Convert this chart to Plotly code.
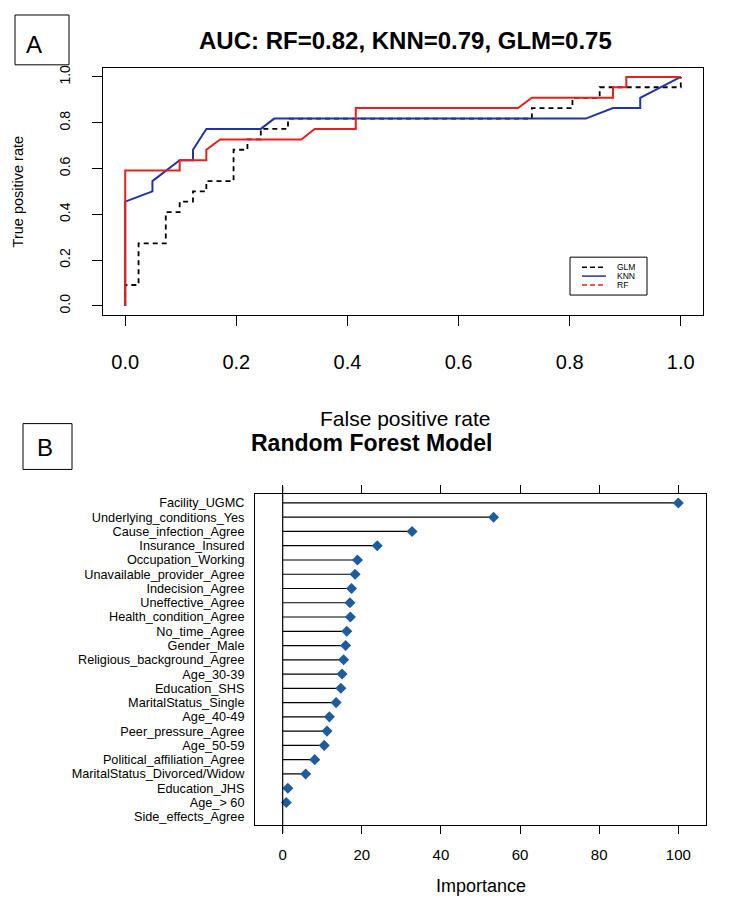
import plotly.graph_objects as go

# The page body has an 8px margin, so the figure is drawn 8px smaller than the window
PAGE_W, PAGE_H = 731, 906
OFF = 8
W, H = PAGE_W - OFF, PAGE_H - 2 * OFF

# ---------------- Panel A data (ROC curves) ----------------
glm_fpr = [0, 0, 0.024, 0.024, 0.073, 0.073, 0.098, 0.098, 0.122, 0.122, 0.146, 0.146,
           0.195, 0.195, 0.220, 0.220, 0.244, 0.244, 0.293, 0.293, 0.732, 0.732,
           0.805, 0.805, 0.854, 0.854, 1.0, 1.0]
glm_tpr = [0, 0.091, 0.091, 0.273, 0.273, 0.409, 0.409, 0.455, 0.455, 0.500, 0.500, 0.545,
           0.545, 0.682, 0.682, 0.727, 0.727, 0.773, 0.773, 0.818, 0.818, 0.864,
           0.864, 0.909, 0.909, 0.955, 0.955, 1.0]

knn_fpr = [0, 0, 0.049, 0.049, 0.098, 0.122, 0.122, 0.146, 0.244, 0.268, 0.829, 0.878,
           0.927, 0.927, 1.0]
knn_tpr = [0, 0.455, 0.500, 0.545, 0.636, 0.636, 0.682, 0.773, 0.773, 0.818, 0.818, 0.864,
           0.864, 0.909, 1.0]

rf_fpr = [0, 0, 0.098, 0.098, 0.146, 0.146, 0.171, 0.317, 0.341, 0.415, 0.415, 0.707,
          0.732, 0.878, 0.878, 0.902, 0.902, 1.0]
rf_tpr = [0, 0.591, 0.591, 0.636, 0.636, 0.682, 0.727, 0.727, 0.773, 0.773, 0.864, 0.864,
          0.909, 0.909, 0.955, 0.955, 1.0, 1.0]

roc_ticks = [0.0, 0.2, 0.4, 0.6, 0.8, 1.0]
title_a = "AUC: RF=0.82, KNN=0.79, GLM=0.75"

# ---------------- Panel B data (variable importance) ----------------
features = ["Facility_UGMC", "Underlying_conditions_Yes", "Cause_infection_Agree",
            "Insurance_Insured", "Occupation_Working", "Unavailable_provider_Agree",
            "Indecision_Agree", "Uneffective_Agree", "Health_condition_Agree",
            "No_time_Agree", "Gender_Male", "Religious_background_Agree", "Age_30-39",
            "Education_SHS", "MaritalStatus_Single", "Age_40-49", "Peer_pressure_Agree",
            "Age_50-59", "Political_affiliation_Agree", "MaritalStatus_Divorced/Widow",
            "Education_JHS", "Age_> 60", "Side_effects_Agree"]
importance = [100.0, 53.3, 32.7, 23.9, 18.9, 18.3, 17.4, 17.0, 17.1, 16.2, 15.9, 15.4,
              15.0, 14.7, 13.5, 11.8, 11.2, 10.5, 8.1, 5.8, 1.3, 0.9, 0.0]
imp_ticks = [0, 20, 40, 60, 80, 100]
title_b = "Random Forest Model"

FONT = "Liberation Sans, Arial, Helvetica, sans-serif"
RED = "#e3221f"
BLUE = "#2233a3"
DOT = "#1f5c9e"


def px(x):
    return (x - OFF) / W


def py(y):
    return 1 - (y - OFF) / H


fig = go.Figure()

# ROC traces
fig.add_trace(go.Scatter(x=glm_fpr, y=glm_tpr, mode="lines", name="GLM",
                         line=dict(color="black", width=1.8, dash="5px,4px"),
                         xaxis="x", yaxis="y", showlegend=False))
fig.add_trace(go.Scatter(x=knn_fpr, y=knn_tpr, mode="lines", name="KNN",
                         line=dict(color=BLUE, width=2),
                         xaxis="x", yaxis="y", showlegend=False))
fig.add_trace(go.Scatter(x=rf_fpr, y=rf_tpr, mode="lines", name="RF",
                         line=dict(color=RED, width=2),
                         xaxis="x", yaxis="y", showlegend=False))

# Lollipop stems
seg_x, seg_y = [], []
for f, v in zip(features, importance):
    seg_x += [0, v, None]
    seg_y += [f, f, None]
fig.add_trace(go.Scatter(x=seg_x, y=seg_y, mode="lines",
                         line=dict(color="black", width=1.2),
                         xaxis="x2", yaxis="y2", showlegend=False, hoverinfo="skip"))
dot_x = [v for v in importance if v > 0]
dot_y = [f for f, v in zip(features, importance) if v > 0]
fig.add_trace(go.Scatter(x=dot_x, y=dot_y, mode="markers",
                         marker=dict(symbol="diamond", size=8.5, color=DOT),
                         xaxis="x2", yaxis="y2", showlegend=False))

axis_common = dict(showgrid=False, zeroline=False, showline=True, linecolor="black",
                   linewidth=1, tickcolor="black", tickwidth=1)

fig.update_layout(
    width=W, height=H, margin=dict(l=0, r=0, t=0, b=0),
    paper_bgcolor="white", plot_bgcolor="white",
    font=dict(family=FONT, color="black"),
    xaxis=dict(domain=[px(103), px(703)], range=[-0.04, 1.04], tickvals=roc_ticks,
               tickformat=".1f", ticks="outside", ticklen=10, mirror=True,
               tickfont=dict(size=20), ticklabelstandoff=19, anchor="y", **axis_common),
    yaxis=dict(domain=[py(313), py(65)], range=[-0.04, 1.04], tickvals=roc_ticks,
               tickformat=".1f", ticks="outside", ticklen=10, mirror=True, tickangle=-90,
               tickfont=dict(size=14), ticklabelstandoff=16, anchor="x", **axis_common),
    xaxis2=dict(domain=[px(255), px(706)], range=[-7, 107], tickvals=imp_ticks,
                ticks="outside", ticklen=8, mirror="ticks", tickfont=dict(size=15),
                ticklabelstandoff=8, anchor="y2", **axis_common),
    yaxis2=dict(domain=[py(825), py(493)], type="category", categoryorder="array",
                categoryarray=features, range=[len(features) - 0.4, -0.6],
                tickmode="array", tickvals=features, ticktext=features,
                ticks="", mirror=True, tickfont=dict(size=12.7), ticklabelstandoff=7,
                anchor="x2", **axis_common),
)

# zero reference line in panel B (spanning through the top/bottom ticks)
fig.add_shape(type="line", xref="x2", yref="paper", x0=0, x1=0, y0=py(833), y1=py(485),
              line=dict(color="black", width=1.2))

annotations = [
    dict(x=px(405), y=py(38), text="<b>" + title_a + "</b>", font=dict(size=24)),
    dict(x=px(405), y=py(417), text="False positive rate", font=dict(size=21)),
    dict(x=px(18), y=py(190), text="True positive rate", font=dict(size=14.5), textangle=-90),
    dict(x=px(372), y=py(441), text="<b>" + title_b + "</b>", font=dict(size=23)),
    dict(x=px(481), y=py(886), text="Importance", font=dict(size=18)),
    dict(x=px(34), y=py(42), text="A", font=dict(size=24, family="Liberation Sans Narrow, Liberation Sans, sans-serif")),
    dict(x=px(45), y=py(446), text="B", font=dict(size=24, family="Liberation Sans Narrow, Liberation Sans, sans-serif")),
]
for a in annotations:
    a.update(xref="paper", yref="paper", showarrow=False, xanchor="center", yanchor="middle")
    fig.add_annotation(**a)

# Panel labels boxes
fig.add_shape(type="rect", xref="paper", yref="paper", x0=px(15), x1=px(69), y0=py(62), y1=py(12),
              line=dict(color="black", width=1))
fig.add_shape(type="rect", xref="paper", yref="paper", x0=px(23), x1=px(72), y0=py(468), y1=py(422),
              line=dict(color="black", width=1))

# Custom legend for panel A (as in the original: RF shown dashed)
fig.add_shape(type="rect", xref="paper", yref="paper", x0=px(570), x1=px(647), y0=py(293), y1=py(255),
              line=dict(color="black", width=1), fillcolor="white")
legend_items = [("GLM", "black", "dash"), ("KNN", BLUE, "solid"), ("RF", RED, "dash")]
for i, (name, col, dash) in enumerate(legend_items):
    yy = 265 + i * 9
    fig.add_shape(type="line", xref="paper", yref="paper", x0=px(582), x1=px(606), y0=py(yy), y1=py(yy),
                  line=dict(color=col, width=1.5, dash="5px,3px" if dash == "dash" else "solid"))
    fig.add_annotation(xref="paper", yref="paper", x=px(616), y=py(yy), text=name, showarrow=False,
                       xanchor="left", yanchor="middle", font=dict(size=8.5), borderpad=0)

fig.write_html("out.html")
